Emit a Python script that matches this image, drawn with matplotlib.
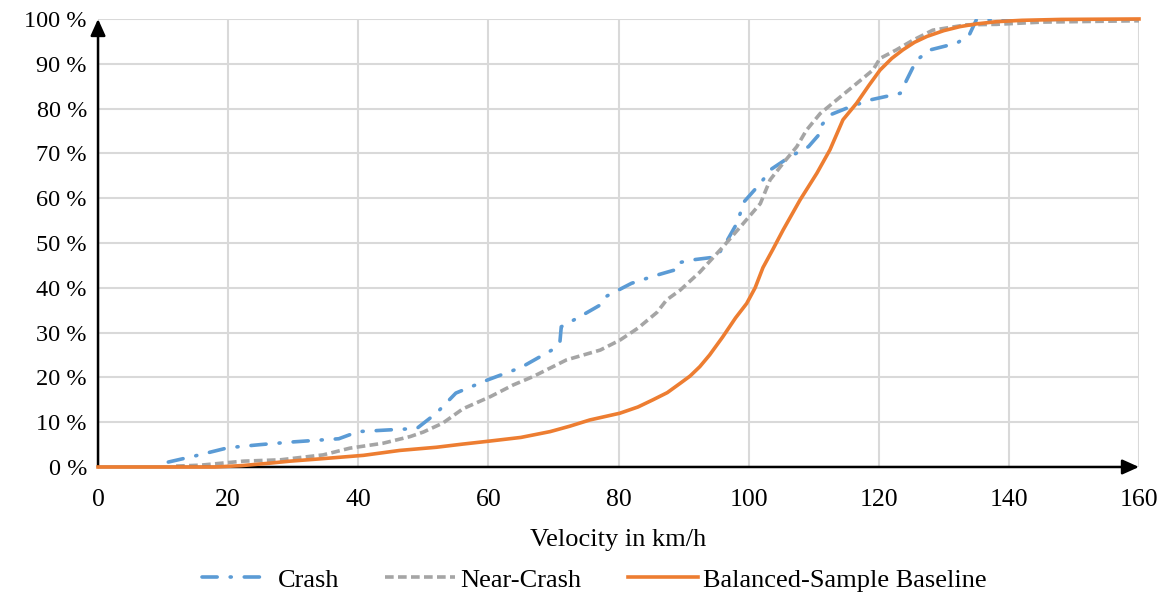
import matplotlib
matplotlib.use("Agg")
import matplotlib.pyplot as plt
from matplotlib.ticker import FuncFormatter

plt.rcParams['font.family'] = ['Liberation Serif', 'DejaVu Serif']

# Crash (dash-dot, blue)
crash_v = [10.8, 15, 20, 25, 30, 37, 40, 45, 49, 52, 55, 60, 65, 70, 71, 71.2, 74, 77, 78, 82, 85.6, 88.7, 89, 91.2, 95.1, 96.6,
           98.2, 99.3, 101.8, 103.4, 106.4, 109.2, 111, 111.2, 112.7, 115.6, 118.9, 123.3, 124.3, 125.8, 127.9, 132, 133.9, 135, 160]
crash_p = [1.1, 2.5, 4.3, 5.0, 5.6, 6.3, 7.9, 8.3, 8.6, 12, 16.5, 19.5, 22.2, 26.3, 28, 31.3, 33.5, 36, 38, 41, 42.7, 44, 45.5, 46.2, 46.9, 50.3,
           54.4, 59.2, 63.3, 66.4, 69.3, 71.5, 74.5, 76.3, 78.7, 80.4, 82, 83.4, 86.4, 90.8, 93.1, 94.6, 96.4, 99.8, 100]

# Near-Crash (dashed, gray)
near_v = [12, 15.7, 22.3, 28, 34.6, 38.7, 43.8, 48, 50, 53, 56.1, 60.3, 63.8, 66.9, 72, 77.2, 80.2, 83, 85.9, 87.4, 89.5, 92.5, 96.1,
          99.2, 101.8, 103.3, 105.3, 107.4, 108.9, 111, 113.5, 116.6, 119.1, 120.2, 122.7, 125.3, 128.3, 133.5, 138.1, 145, 160]
near_p = [0.2, 0.4, 1.3, 1.6, 2.7, 4.2, 5.3, 6.8, 7.8, 9.8, 13, 15.7, 18.3, 20.2, 23.9, 26.1, 28.3, 31, 34.5, 37.3, 39.5, 43.5, 49.2,
          54.4, 58.8, 64.1, 67.8, 71.5, 75.2, 78.9, 81.9, 85.6, 88.6, 91.2, 93.1, 95.3, 97.5, 98.7, 98.8, 99.3, 99.6]

# Balanced-Sample Baseline (solid, orange)
base_v = [0, 18, 22, 26, 29.5, 34, 40.8, 46.4, 52, 56, 60.3, 65, 69.5, 72.5, 75.6, 80.2, 83, 85.3, 87.5, 89.5, 91, 92.5, 94, 96,
          98, 99.7, 101, 102.2, 103.7, 105.3, 107.9, 110.5, 112.5, 114.5, 116.6, 118.5, 120.2, 122, 123.7, 125.5, 127.4, 130, 132.5, 135, 138.1, 142, 148, 160]
base_p = [0, 0, 0.3, 0.8, 1.3, 1.8, 2.6, 3.7, 4.4, 5.1, 5.8, 6.6, 7.9, 9.1, 10.5, 12, 13.4, 15, 16.6, 18.7, 20.3, 22.4, 25, 29,
          33.3, 36.5, 40, 44.5, 48.5, 52.9, 59.6, 65.6, 70.8, 77.5, 81.2, 85.2, 88.6, 91.2, 93.1, 94.8, 96.1, 97.4, 98.3, 98.9, 99.4, 99.7, 99.9, 100]

series_labels = ['Crash', 'Near-Crash', 'Balanced-Sample Baseline']
x_ticks = [0, 20, 40, 60, 80, 100, 120, 140, 160]
y_ticks = [0, 10, 20, 30, 40, 50, 60, 70, 80, 90, 100]

fig = plt.figure(figsize=(11.67, 5.93), dpi=100)
ax = fig.add_axes([0.084, 0.2125, 0.892, 0.7555])

ax.plot(crash_v, crash_p, color='#5B9BD5', lw=2.6, dashes=(4.2, 3.6, 0.3, 3.6), dash_capstyle='round',
        label=series_labels[0], zorder=3)
ax.plot(near_v, near_p, color='#A5A5A5', lw=2.6, dashes=(2.4, 1.2), dash_capstyle='butt',
        label=series_labels[1], zorder=3)
ax.plot(base_v, base_p, color='#ED7D31', lw=2.6, label=series_labels[2], zorder=7, clip_on=False)

ax.set_xlim(0, 160)
ax.set_ylim(0, 100)
ax.set_xticks(x_ticks)
ax.set_yticks(y_ticks)
ax.yaxis.set_major_formatter(FuncFormatter(lambda v, p: f"{int(v)} %"))
ax.grid(True, color='#D9D9D9', lw=1.5)
ax.set_axisbelow(True)
ax.tick_params(axis='x', length=0, labelsize=18.5, pad=16)
ax.tick_params(axis='y', length=0, labelsize=17.5, pad=8)
for s in ['top', 'right', 'left', 'bottom']:
    ax.spines[s].set_visible(False)

# axes with arrows
ax.annotate('', xy=(1.0, 0), xycoords='axes fraction', xytext=(0, 0),
            arrowprops=dict(arrowstyle='-|>,head_length=1.0,head_width=0.45', color='black', lw=1.8, shrinkA=0, shrinkB=0), zorder=5)
ax.annotate('', xy=(0, 1.0), xycoords='axes fraction', xytext=(0, 0),
            arrowprops=dict(arrowstyle='-|>,head_length=1.0,head_width=0.45', color='black', lw=1.8, shrinkA=0, shrinkB=0), zorder=5)

ax.set_xlabel('Velocity in km/h', fontsize=19, labelpad=13)
ax.legend(loc='center', bbox_to_anchor=(0.477, -0.252), ncol=3, frameon=False, fontsize=19,
          handlelength=2.65, columnspacing=1.75, handletextpad=0.2)

fig.savefig('out.png', dpi=100)
